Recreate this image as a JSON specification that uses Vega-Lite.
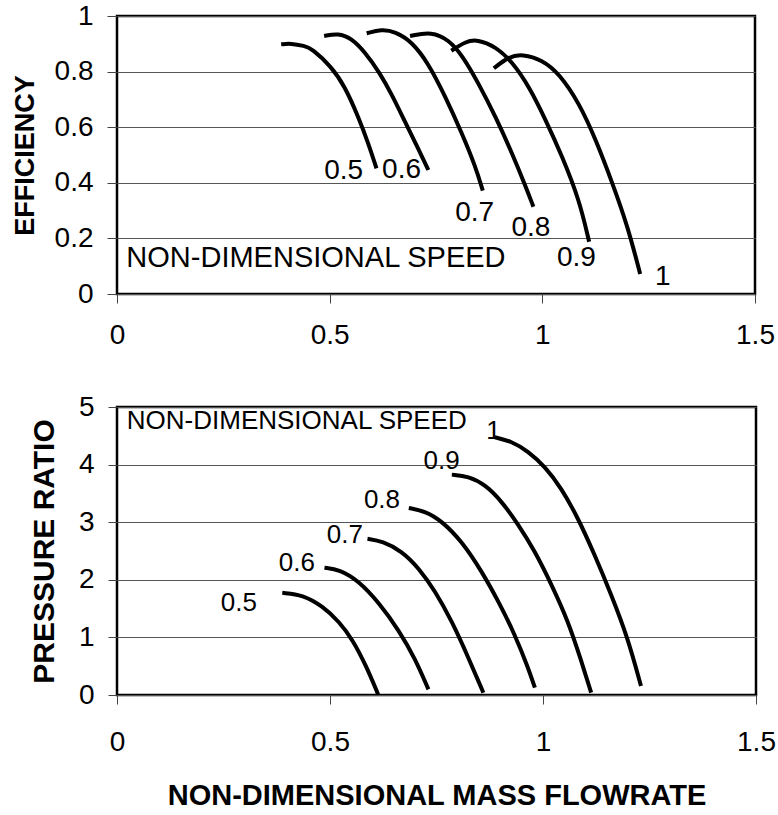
{
  "$schema": "https://vega.github.io/schema/vega-lite/v6.json",
  "padding": {"left": 9, "top": 0, "right": 5, "bottom": 0},
  "spacing": 40,
  "config": {
    "font": "Liberation Sans",
    "view": {"stroke": "black", "strokeWidth": 2.5},
    "axis": {
      "labelFont": "Liberation Sans",
      "titleFont": "Liberation Sans",
      "labelFontSize": 28,
      "labelColor": "black",
      "titleColor": "black",
      "titleFontWeight": "bold",
      "tickColor": "#444",
      "tickWidth": 1,
      "gridColor": "#555",
      "gridWidth": 1,
      "gridOpacity": 1,
      "domain": false,
      "labelFlush": false,
      "labelOverlap": false
    },
    "text": {"font": "Liberation Sans", "color": "black"}
  },
  "datasets": {
    "eff": [
      {"speed": "0.5", "flow": 0.386, "eff": 0.898},
      {"speed": "0.5", "flow": 0.409, "eff": 0.902},
      {"speed": "0.5", "flow": 0.441, "eff": 0.892},
      {"speed": "0.5", "flow": 0.457, "eff": 0.884},
      {"speed": "0.5", "flow": 0.504, "eff": 0.818},
      {"speed": "0.5", "flow": 0.536, "eff": 0.746},
      {"speed": "0.5", "flow": 0.567, "eff": 0.638},
      {"speed": "0.5", "flow": 0.591, "eff": 0.542},
      {"speed": "0.5", "flow": 0.610, "eff": 0.452},
      {"speed": "0.6", "flow": 0.487, "eff": 0.928},
      {"speed": "0.6", "flow": 0.520, "eff": 0.938},
      {"speed": "0.6", "flow": 0.551, "eff": 0.920},
      {"speed": "0.6", "flow": 0.583, "eff": 0.870},
      {"speed": "0.6", "flow": 0.618, "eff": 0.795},
      {"speed": "0.6", "flow": 0.646, "eff": 0.718},
      {"speed": "0.6", "flow": 0.677, "eff": 0.620},
      {"speed": "0.6", "flow": 0.709, "eff": 0.520},
      {"speed": "0.6", "flow": 0.732, "eff": 0.446},
      {"speed": "0.7", "flow": 0.587, "eff": 0.938},
      {"speed": "0.7", "flow": 0.622, "eff": 0.952},
      {"speed": "0.7", "flow": 0.654, "eff": 0.944},
      {"speed": "0.7", "flow": 0.693, "eff": 0.908},
      {"speed": "0.7", "flow": 0.732, "eff": 0.830},
      {"speed": "0.7", "flow": 0.772, "eff": 0.710},
      {"speed": "0.7", "flow": 0.811, "eff": 0.578},
      {"speed": "0.7", "flow": 0.843, "eff": 0.458},
      {"speed": "0.7", "flow": 0.860, "eff": 0.372},
      {"speed": "0.8", "flow": 0.689, "eff": 0.928},
      {"speed": "0.8", "flow": 0.740, "eff": 0.944},
      {"speed": "0.8", "flow": 0.780, "eff": 0.914},
      {"speed": "0.8", "flow": 0.811, "eff": 0.860},
      {"speed": "0.8", "flow": 0.850, "eff": 0.758},
      {"speed": "0.8", "flow": 0.890, "eff": 0.638},
      {"speed": "0.8", "flow": 0.929, "eff": 0.506},
      {"speed": "0.8", "flow": 0.961, "eff": 0.386},
      {"speed": "0.8", "flow": 0.979, "eff": 0.314},
      {"speed": "0.9", "flow": 0.786, "eff": 0.875},
      {"speed": "0.9", "flow": 0.819, "eff": 0.908},
      {"speed": "0.9", "flow": 0.847, "eff": 0.916},
      {"speed": "0.9", "flow": 0.890, "eff": 0.890},
      {"speed": "0.9", "flow": 0.929, "eff": 0.836},
      {"speed": "0.9", "flow": 0.969, "eff": 0.746},
      {"speed": "0.9", "flow": 1.008, "eff": 0.626},
      {"speed": "0.9", "flow": 1.047, "eff": 0.494},
      {"speed": "0.9", "flow": 1.087, "eff": 0.338},
      {"speed": "0.9", "flow": 1.110, "eff": 0.188},
      {"speed": "1", "flow": 0.886, "eff": 0.812},
      {"speed": "1", "flow": 0.921, "eff": 0.854},
      {"speed": "1", "flow": 0.953, "eff": 0.863},
      {"speed": "1", "flow": 1.000, "eff": 0.842},
      {"speed": "1", "flow": 1.039, "eff": 0.794},
      {"speed": "1", "flow": 1.087, "eff": 0.686},
      {"speed": "1", "flow": 1.126, "eff": 0.554},
      {"speed": "1", "flow": 1.165, "eff": 0.398},
      {"speed": "1", "flow": 1.201, "eff": 0.242},
      {"speed": "1", "flow": 1.230, "eff": 0.072}
    ],
    "effLab": [
      {"label": "0.5", "flow": 0.533, "eff": 0.443},
      {"label": "0.6", "flow": 0.669, "eff": 0.446},
      {"label": "0.7", "flow": 0.841, "eff": 0.291},
      {"label": "0.8", "flow": 0.973, "eff": 0.236},
      {"label": "0.9", "flow": 1.080, "eff": 0.129},
      {"label": "1", "flow": 1.283, "eff": 0.061}
    ],
    "effNote": [
      {"label": "NON-DIMENSIONAL SPEED", "flow": 0.022, "eff": 0.128}
    ],
    "pr": [
      {"speed": "0.5", "flow": 0.388, "pr": 1.774},
      {"speed": "0.5", "flow": 0.436, "pr": 1.740},
      {"speed": "0.5", "flow": 0.483, "pr": 1.540},
      {"speed": "0.5", "flow": 0.522, "pr": 1.270},
      {"speed": "0.5", "flow": 0.553, "pr": 0.960},
      {"speed": "0.5", "flow": 0.584, "pr": 0.520},
      {"speed": "0.5", "flow": 0.613, "pr": 0.01},
      {"speed": "0.6", "flow": 0.487, "pr": 2.208},
      {"speed": "0.6", "flow": 0.522, "pr": 2.178},
      {"speed": "0.6", "flow": 0.568, "pr": 1.977},
      {"speed": "0.6", "flow": 0.615, "pr": 1.600},
      {"speed": "0.6", "flow": 0.662, "pr": 1.120},
      {"speed": "0.6", "flow": 0.700, "pr": 0.630},
      {"speed": "0.6", "flow": 0.731, "pr": 0.097},
      {"speed": "0.7", "flow": 0.588, "pr": 2.711},
      {"speed": "0.7", "flow": 0.623, "pr": 2.671},
      {"speed": "0.7", "flow": 0.669, "pr": 2.497},
      {"speed": "0.7", "flow": 0.708, "pr": 2.208},
      {"speed": "0.7", "flow": 0.747, "pr": 1.803},
      {"speed": "0.7", "flow": 0.786, "pr": 1.283},
      {"speed": "0.7", "flow": 0.825, "pr": 0.647},
      {"speed": "0.7", "flow": 0.860, "pr": 0.04},
      {"speed": "0.8", "flow": 0.685, "pr": 3.248},
      {"speed": "0.8", "flow": 0.724, "pr": 3.191},
      {"speed": "0.8", "flow": 0.763, "pr": 3.018},
      {"speed": "0.8", "flow": 0.809, "pr": 2.671},
      {"speed": "0.8", "flow": 0.856, "pr": 2.15},
      {"speed": "0.8", "flow": 0.895, "pr": 1.63},
      {"speed": "0.8", "flow": 0.934, "pr": 1.051},
      {"speed": "0.8", "flow": 0.965, "pr": 0.473},
      {"speed": "0.8", "flow": 0.981, "pr": 0.127},
      {"speed": "0.9", "flow": 0.786, "pr": 3.826},
      {"speed": "0.9", "flow": 0.825, "pr": 3.798},
      {"speed": "0.9", "flow": 0.864, "pr": 3.653},
      {"speed": "0.9", "flow": 0.903, "pr": 3.364},
      {"speed": "0.9", "flow": 0.942, "pr": 2.959},
      {"speed": "0.9", "flow": 0.981, "pr": 2.497},
      {"speed": "0.9", "flow": 1.020, "pr": 1.918},
      {"speed": "0.9", "flow": 1.059, "pr": 1.283},
      {"speed": "0.9", "flow": 1.090, "pr": 0.59},
      {"speed": "0.9", "flow": 1.113, "pr": 0.04},
      {"speed": "1", "flow": 0.887, "pr": 4.474},
      {"speed": "1", "flow": 0.926, "pr": 4.405},
      {"speed": "1", "flow": 0.965, "pr": 4.232},
      {"speed": "1", "flow": 1.004, "pr": 3.971},
      {"speed": "1", "flow": 1.043, "pr": 3.595},
      {"speed": "1", "flow": 1.082, "pr": 3.075},
      {"speed": "1", "flow": 1.121, "pr": 2.439},
      {"speed": "1", "flow": 1.160, "pr": 1.745},
      {"speed": "1", "flow": 1.199, "pr": 0.994},
      {"speed": "1", "flow": 1.230, "pr": 0.156}
    ],
    "prLab": [
      {"label": "0.5", "flow": 0.286, "pr": 1.60},
      {"label": "0.6", "flow": 0.422, "pr": 2.29},
      {"label": "0.7", "flow": 0.535, "pr": 2.77},
      {"label": "0.8", "flow": 0.622, "pr": 3.39},
      {"label": "0.9", "flow": 0.762, "pr": 4.07},
      {"label": "1", "flow": 0.884, "pr": 4.59}
    ],
    "prNote": [
      {"label": "NON-DIMENSIONAL SPEED", "flow": 0.023, "pr": 4.76}
    ]
  },
  "vconcat": [
    {
      "width": 638,
      "height": 278,
      "layer": [
        {
          "data": {"name": "eff"},
          "mark": {"type": "line", "color": "black", "strokeWidth": 4, "interpolate": "basis"},
          "encoding": {
            "x": {"field": "flow", "type": "quantitative", "scale": {"domain": [0, 1.5], "nice": false, "zero": false},
                  "axis": {"values": [0, 0.5, 1, 1.5], "format": "~g", "title": null, "grid": false, "tickSize": 9, "labelPadding": 18}},
            "y": {"field": "eff", "type": "quantitative", "scale": {"domain": [0, 1], "nice": false},
                  "axis": {"values": [0, 0.2, 0.4, 0.6, 0.8, 1], "format": "~g", "title": "EFFICIENCY", "titleFontSize": 27, "tickSize": 10, "labelPadding": 14, "titlePadding": 15, "grid": true}},
            "detail": {"field": "speed", "type": "nominal"}
          }
        },
        {
          "data": {"name": "effLab"},
          "mark": {"type": "text", "fontSize": 28, "align": "center", "baseline": "middle"},
          "encoding": {
            "x": {"field": "flow", "type": "quantitative"},
            "y": {"field": "eff", "type": "quantitative"},
            "text": {"field": "label", "type": "nominal"}
          }
        },
        {
          "data": {"name": "effNote"},
          "mark": {"type": "text", "fontSize": 29, "align": "left", "baseline": "middle"},
          "encoding": {
            "x": {"field": "flow", "type": "quantitative"},
            "y": {"field": "eff", "type": "quantitative"},
            "text": {"field": "label", "type": "nominal"}
          }
        }
      ]
    },
    {
      "width": 639,
      "height": 288,
      "layer": [
        {
          "data": {"name": "pr"},
          "mark": {"type": "line", "color": "black", "strokeWidth": 4, "interpolate": "basis"},
          "encoding": {
            "x": {"field": "flow", "type": "quantitative", "scale": {"domain": [0, 1.5], "nice": false, "zero": false},
                  "axis": {"values": [0, 0.5, 1, 1.5], "format": "~g", "title": "NON-DIMENSIONAL MASS FLOWRATE", "titleFontSize": 29, "grid": false, "tickSize": 9, "labelPadding": 24, "titlePadding": 25}},
            "y": {"field": "pr", "type": "quantitative", "scale": {"domain": [0, 5], "nice": false},
                  "axis": {"values": [0, 1, 2, 3, 4, 5], "format": "~g", "title": "PRESSURE RATIO", "titleFontSize": 30, "tickSize": 9, "labelPadding": 14, "titlePadding": 19, "grid": true}},
            "detail": {"field": "speed", "type": "nominal"}
          }
        },
        {
          "data": {"name": "prLab"},
          "mark": {"type": "text", "fontSize": 26, "align": "center", "baseline": "middle"},
          "encoding": {
            "x": {"field": "flow", "type": "quantitative"},
            "y": {"field": "pr", "type": "quantitative"},
            "text": {"field": "label", "type": "nominal"}
          }
        },
        {
          "data": {"name": "prNote"},
          "mark": {"type": "text", "fontSize": 26, "align": "left", "baseline": "middle"},
          "encoding": {
            "x": {"field": "flow", "type": "quantitative"},
            "y": {"field": "pr", "type": "quantitative"},
            "text": {"field": "label", "type": "nominal"}
          }
        }
      ]
    }
  ]
}
